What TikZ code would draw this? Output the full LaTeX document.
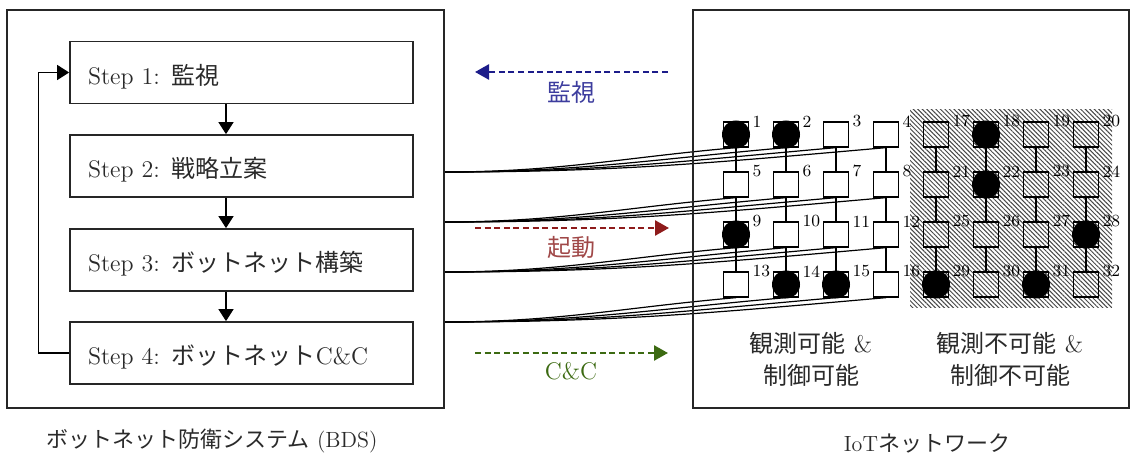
\documentclass[tikz,border=0pt]{standalone}
\usepackage{fontspec}
\newfontfamily\jp{Noto Sans CJK JP}
\usetikzlibrary{arrows.meta,patterns.meta,calc}

\definecolor{monblue}{HTML}{1C1C8A}
\definecolor{monbluetext}{HTML}{3D3D9E}
\definecolor{bootred}{HTML}{8E1B1B}
\definecolor{bootredtext}{HTML}{A04848}
\definecolor{ccgreen}{HTML}{3C6A12}
\definecolor{txt}{HTML}{2A2A2A}

\pgfdeclarelayer{bg}
\pgfsetlayers{bg,main}

\begin{document}
\begin{tikzpicture}[x=0.5pt,y=-0.5pt,
  frame/.style={draw=black!85,line width=0.9pt,inner sep=0},
  stepbox/.style={draw=black!85,line width=0.85pt,minimum width=171.5pt,minimum height=31pt,
    text width=153.5pt,text height=13.5pt,text depth=1.5pt,inner xsep=9pt,inner ysep=0pt,align=left,
    font=\fontsize{12}{14}\selectfont,text=txt},
  flow/.style={line width=0.65pt,-{Triangle[length=6pt,width=7.5pt]}},
  sq/.style={draw,line width=0.65pt,minimum size=12.5pt,inner sep=0},
  bot/.style={circle,fill=black,minimum size=14pt,inner sep=0},
  num/.style={inner sep=0,anchor=west,font=\fontsize{8.5}{10}\selectfont},
  link/.style={line width=0.7pt},
  wire/.style={line width=0.6pt},
  signal/.style={line width=1.3pt,dash pattern=on 3pt off 1.8pt,-{Triangle[length=7pt,width=7.5pt]}},
  siglabel/.style={font=\jp\fontsize{12}{14}\selectfont},
  caption/.style={font=\fontsize{11}{13}\selectfont,text=txt},
  region/.style={align=center,font=\fontsize{12}{16}\selectfont,text=txt},
  ]
\useasboundingbox (0,0) rectangle (1131,454);

% system frames
\node[frame,minimum width=218.5pt,minimum height=199pt] (bds) at (225.5,209) {};
\node[frame,minimum width=218pt,minimum height=199pt] (iot) at (911,209) {};

% defence cycle
\node[stepbox] (s1) at (241.5,72.5) {Step 1: {\jp 監視}};
\node[stepbox] (s2) at (241.5,166) {Step 2: {\jp 戦略立案}};
\node[stepbox] (s3) at (241.5,260) {Step 3: {\jp ボットネット構築}};
\node[stepbox] (s4) at (241.5,353) {Step 4: {\jp ボットネット}C\&C};
\draw[flow] ([xshift=-7.75pt]s1.south) -- ([xshift=-7.75pt]s2.north);
\draw[flow] ([xshift=-7.75pt]s2.south) -- ([xshift=-7.75pt]s3.north);
\draw[flow] ([xshift=-7.75pt]s3.south) -- ([xshift=-7.75pt]s4.north);
\draw[flow] (s4.west) -- ++(-31,0) |- (s1.west);

% IoT grid: left half observable, right half hidden
\foreach \r in {1,...,4}{
  \foreach \c in {1,...,8}{
    \pgfmathtruncatemacro{\k}{\c<5 ? (\r-1)*4+\c : 16+(\r-1)*4+\c-4}
    \ifnum\c<5 \def\fc{white}\else\def\fc{none}\fi
    \node[sq,fill=\fc] (g\r\c) at ({736+50*(\c-1)},{134.5+50*(\r-1)}) {};
    \node[num] (l\r\c) at ([xshift=1.5pt]g\r\c.north east) {\k};
  }
}
\foreach \p in {11,12,31,42,43,16,26,38,45,47}
  \node[bot] (b\p) at (g\p) {};

\foreach \r in {1,...,4}
  \foreach \c [evaluate=\c as \cn using int(\c+1)] in {1,...,7}
    \draw[link] (g\r\c) -- (g\r\cn);
\foreach \r [evaluate=\r as \rn using int(\r+1)] in {1,...,3}
  \foreach \c in {1,...,8}
    \draw[link] (g\r\c) -- (g\rn\c);

\begin{pgfonlayer}{bg}
  \fill[pattern={Lines[angle=-45,distance=1.6pt,line width=0.5pt]},pattern color=black!72]
    (910,110) rectangle (1112,308);
  \coordinate (f1) at (444,172);
  \coordinate (f2) at (444,222);
  \coordinate (f3) at (444,272);
  \coordinate (f4) at (444,322);
  \foreach \r in {1,...,4}
    \foreach \c in {1,...,4}
      \draw[wire] (f\r) to[out=0,in=185] (g\r\c.south);
\end{pgfonlayer}

% signals between the systems
\coordinate (monS) at (668,72);  \coordinate (monE) at (475,72);
\coordinate (actS) at (475,228); \coordinate (actE) at (669,228);
\coordinate (ccS) at (475,353);  \coordinate (ccE) at (668,353);
\draw[signal,monblue] (monS) -- (monE);
\draw[signal,bootred] (actS) -- (actE);
\draw[signal,ccgreen] (ccS) -- (ccE);
\node[siglabel,text=monbluetext] (monL) at (571,92) {監視};
\node[siglabel,text=bootredtext] (actL) at (571,247) {起動};
\node[font=\fontsize{12}{14}\selectfont,text=ccgreen] (ccL) at (571,371) {C\&C};

% region captions
\node[region] (obs) at (811,359) {{\jp 観測可能} \&\\{\jp 制御可能}};
\node[region] (hid) at (1010,359) {{\jp 観測不可能} \&\\{\jp 制御不可能}};

% system captions
\node[caption] (bdsL) at (212,441) {{\jp ボットネット防衛システム} (BDS)};
\node[caption] (iotL) at (927,443) {IoT{\jp ネットワーク}};
\end{tikzpicture}
\end{document}
